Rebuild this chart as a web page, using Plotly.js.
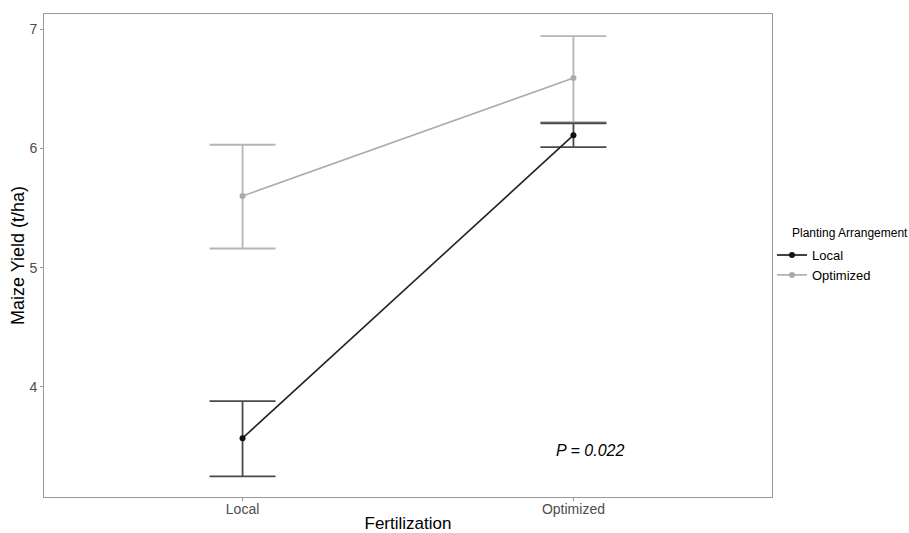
<!DOCTYPE html>
<html>
<head>
<meta charset="utf-8">
<script src="https://cdn.plot.ly/plotly-3.0.1.min.js"></script>
<style>body{margin:0;padding:0;background:#fff;} #chart{width:909px;height:533px;}</style>
</head>
<body>
<div id="chart"></div>
<script>
var fertilization = ['Local', 'Optimized'];
var localMean = [3.57, 6.11];
var localUpper = [3.88, 6.21];
var localLower = [3.25, 6.01];
var optMean = [5.60, 6.59];
var optUpper = [6.03, 6.94];
var optLower = [5.16, 6.22];
var yTicks = [4, 5, 6, 7];

function diff(a, b) { return a.map(function (v, i) { return +(v - b[i]).toFixed(3); }); }

var traces = [
  {
    x: fertilization, y: optMean, name: 'Optimized', type: 'scatter', mode: 'lines+markers',
    line: {color: '#ababab', width: 1.6}, marker: {color: '#ababab', size: 6},
    error_y: {type: 'data', symmetric: false, array: diff(optUpper, optMean), arrayminus: diff(optMean, optLower),
      color: '#b5b5b5', thickness: 1.8, width: 33},
    showlegend: false
  },
  {
    x: fertilization, y: localMean, name: 'Local', type: 'scatter', mode: 'lines+markers',
    line: {color: '#222222', width: 1.6}, marker: {color: '#111111', size: 6},
    error_y: {type: 'data', symmetric: false, array: diff(localUpper, localMean), arrayminus: diff(localMean, localLower),
      color: '#4a4a4a', thickness: 1.8, width: 33},
    showlegend: false
  },
  {x: [null], y: [null], name: 'Local', type: 'scatter', mode: 'lines+markers',
   line: {color: '#111111', width: 1.6}, marker: {color: '#111111', size: 6}},
  {x: [null], y: [null], name: 'Optimized', type: 'scatter', mode: 'lines+markers',
   line: {color: '#ababab', width: 1.6}, marker: {color: '#ababab', size: 6}}
];

var layout = {
  width: 909, height: 533,
  margin: {l: 44, r: 137, t: 14, b: 36},
  paper_bgcolor: '#ffffff', plot_bgcolor: '#ffffff',
  font: {family: 'Liberation Sans, Arial, sans-serif', color: '#000'},
  xaxis: {
    type: 'category', range: [-0.6, 1.6], showgrid: false, zeroline: false,
    showline: true, mirror: true, linecolor: '#9a9a9a', linewidth: 1,
    ticks: 'outside', ticklen: 3, tickcolor: '#9a9a9a', ticklabelstandoff: -4,
    tickfont: {size: 14, color: '#4d4d4d'},
    title: {text: 'Fertilization', font: {size: 17, color: '#000'}, standoff: 7}
  },
  yaxis: {
    range: [3.077, 7.126], tickvals: yTicks, showgrid: false, zeroline: false,
    showline: true, mirror: true, linecolor: '#9a9a9a', linewidth: 1,
    ticks: 'outside', ticklen: 3, tickcolor: '#9a9a9a',
    tickfont: {size: 14, color: '#4d4d4d'},
    title: {text: 'Maize Yield (t/ha)', font: {size: 18, color: '#000'}, standoff: 0}
  },
  legend: {
    x: 1.0, xanchor: 'left', y: 0.532, yanchor: 'top', bgcolor: 'rgba(0,0,0,0)',
    font: {size: 13, color: '#000'}, tracegroupgap: 0, itemwidth: 30
  },
  annotations: [
    {x: 1.05, y: 3.47, xref: 'x', yref: 'y', text: '<i>P = 0.022</i>', showarrow: false,
     font: {size: 16, color: '#000'}},
    {x: 1.0247, y: 0.5466, xref: 'paper', yref: 'paper', xanchor: 'left', yanchor: 'middle',
     text: 'Planting Arrangement', showarrow: false, font: {size: 12, color: '#000'}}
  ]
};

Plotly.newPlot('chart', traces, layout, {displayModeBar: false, staticPlot: true});
</script>
</body>
</html>
